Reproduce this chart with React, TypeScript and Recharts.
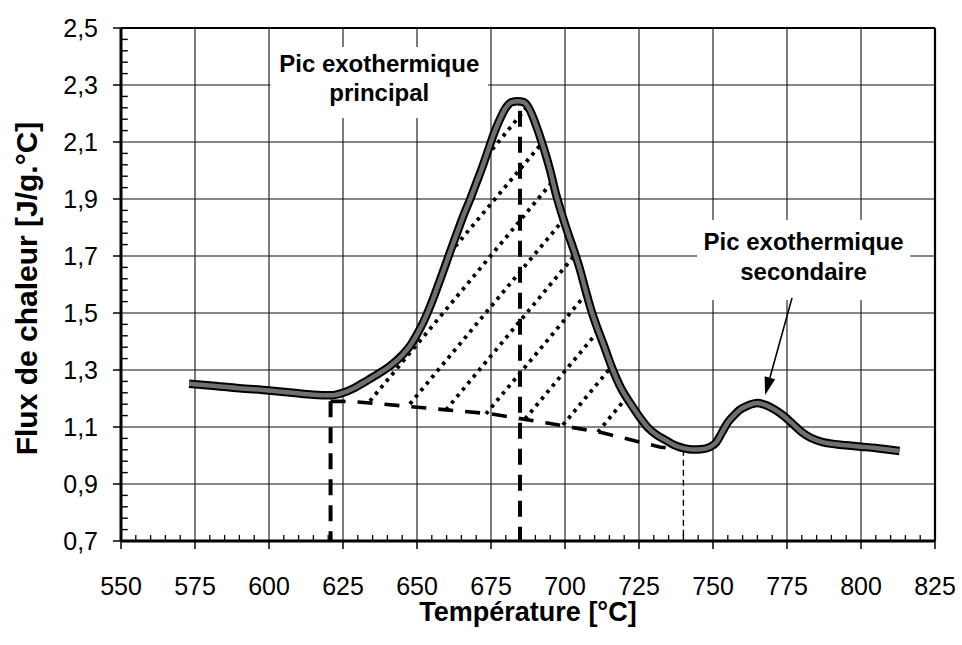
import React from 'react';
import { ComposedChart, Line, XAxis, YAxis, CartesianGrid, ReferenceLine, ReferenceArea } from 'recharts';

const FONT = "'Liberation Sans', Arial, sans-serif";

const xTicks = [550, 575, 600, 625, 650, 675, 700, 725, 750, 775, 800, 825];
const xMinorTicks = [
  555, 560, 565, 570, 580, 585, 590, 595, 605, 610, 615, 620, 630, 635, 640, 645,
  655, 660, 665, 670, 680, 685, 690, 695, 705, 710, 715, 720, 730, 735, 740, 745,
  755, 760, 765, 770, 780, 785, 790, 795, 805, 810, 815, 820,
];
const yTicks = [0.7, 0.9, 1.1, 1.3, 1.5, 1.7, 1.9, 2.1, 2.3, 2.5];
const yMinorTicks = [
  0.74, 0.78, 0.82, 0.86, 0.94, 0.98, 1.02, 1.06, 1.14, 1.18, 1.22, 1.26,
  1.34, 1.38, 1.42, 1.46, 1.54, 1.58, 1.62, 1.66, 1.74, 1.78, 1.82, 1.86,
  1.94, 1.98, 2.02, 2.06, 2.14, 2.18, 2.22, 2.26, 2.34, 2.38, 2.42, 2.46,
];

// Heat flux curve (temperature °C, flux J/g.°C)
const fluxCurve = [
  { T: 573, v: 1.252 }, { T: 580, v: 1.246 }, { T: 590, v: 1.236 }, { T: 600, v: 1.228 },
  { T: 608, v: 1.22 }, { T: 615, v: 1.213 }, { T: 621, v: 1.211 }, { T: 625, v: 1.22 },
  { T: 629, v: 1.238 }, { T: 633, v: 1.262 }, { T: 637, v: 1.287 }, { T: 641, v: 1.315 },
  { T: 645, v: 1.352 }, { T: 648, v: 1.39 }, { T: 650, v: 1.425 }, { T: 652, v: 1.465 },
  { T: 654, v: 1.512 }, { T: 656, v: 1.565 }, { T: 658, v: 1.622 }, { T: 660, v: 1.68 },
  { T: 662, v: 1.738 }, { T: 664, v: 1.795 }, { T: 666, v: 1.85 }, { T: 668, v: 1.9 },
  { T: 670, v: 1.955 }, { T: 672, v: 2.01 }, { T: 674, v: 2.07 }, { T: 676, v: 2.13 },
  { T: 678, v: 2.18 }, { T: 680, v: 2.22 }, { T: 682, v: 2.24 }, { T: 684, v: 2.243 },
  { T: 686, v: 2.24 }, { T: 688, v: 2.215 }, { T: 690, v: 2.165 }, { T: 692, v: 2.105 },
  { T: 695, v: 2.0 }, { T: 697, v: 1.915 }, { T: 699, v: 1.845 }, { T: 701, v: 1.78 },
  { T: 703, v: 1.72 }, { T: 705, v: 1.655 }, { T: 707, v: 1.578 }, { T: 709, v: 1.505 },
  { T: 711, v: 1.445 }, { T: 713, v: 1.39 }, { T: 716, v: 1.305 }, { T: 719, v: 1.235 },
  { T: 722, v: 1.184 }, { T: 725, v: 1.138 }, { T: 728, v: 1.098 }, { T: 731, v: 1.072 },
  { T: 734, v: 1.054 }, { T: 737, v: 1.036 }, { T: 740, v: 1.026 }, { T: 743, v: 1.021 },
  { T: 746, v: 1.022 }, { T: 749, v: 1.03 }, { T: 751, v: 1.045 }, { T: 753, v: 1.08 },
  { T: 755, v: 1.116 }, { T: 757, v: 1.14 }, { T: 759, v: 1.16 }, { T: 762, v: 1.176 },
  { T: 765, v: 1.184 }, { T: 768, v: 1.176 }, { T: 771, v: 1.16 }, { T: 774, v: 1.138 },
  { T: 777, v: 1.11 }, { T: 780, v: 1.082 }, { T: 783, v: 1.062 }, { T: 787, v: 1.047 },
  { T: 791, v: 1.04 }, { T: 795, v: 1.036 }, { T: 800, v: 1.031 }, { T: 805, v: 1.026 },
  { T: 809, v: 1.021 }, { T: 813, v: 1.016 },
];

// Construction lines
const baseline = [
  { T: 620.8, v: 1.19 }, { T: 625, v: 1.19 }, { T: 631, v: 1.187 }, { T: 645, v: 1.174 },
  { T: 660, v: 1.16 }, { T: 675, v: 1.146 }, { T: 694, v: 1.114 }, { T: 713, v: 1.079 },
  { T: 732, v: 1.03 }, { T: 740, v: 1.019 },
];
const onsetLine = [{ T: 620.8, v: 1.19 }, { T: 620.8, v: 0.7 }];
const peakLine = [{ T: 684.8, v: 2.21 }, { T: 684.8, v: 0.7 }];
const endLine = [{ T: 740, v: 1.02 }, { T: 740, v: 0.7 }];

const hatchLines = [
  [{ T: 673.6, v: 2.051 }, { T: 687.2, v: 2.223 }],
  [{ T: 661.1, v: 1.711 }, { T: 692.2, v: 2.096 }],
  [{ T: 634.1, v: 1.191 }, { T: 695.9, v: 1.963 }],
  [{ T: 647.6, v: 1.181 }, { T: 699.7, v: 1.83 }],
  [{ T: 659.8, v: 1.16 }, { T: 703.4, v: 1.704 }],
  [{ T: 673.3, v: 1.146 }, { T: 707.4, v: 1.57 }],
  [{ T: 686.5, v: 1.128 }, { T: 711.5, v: 1.44 }],
  [{ T: 699.3, v: 1.107 }, { T: 715.9, v: 1.314 }],
  [{ T: 711.1, v: 1.082 }, { T: 720.9, v: 1.205 }],
];

const arrowSegment = [{ x: 776.7, y: 1.553 }, { x: 767.6, y: 1.212 }];

const fmtY = (v: number) => v.toFixed(1).replace('.', ',');

const NoTick = () => <g />;

// inner minor tick length on the y axis, expressed in °C along x
const MINOR_Y_TICK_SPAN = 2.3;

const ArrowShape = (p: any) => {
  const { x1, y1, x2, y2 } = p;
  const ang = Math.atan2(y2 - y1, x2 - x1);
  const len = 18;
  const half = 5.5;
  const bx = x2 - len * Math.cos(ang);
  const by = y2 - len * Math.sin(ang);
  const px = -Math.sin(ang) * half;
  const py = Math.cos(ang) * half;
  return (
    <g>
      <line x1={x1} y1={y1} x2={bx} y2={by} stroke="#000" strokeWidth={1.6} />
      <polygon points={`${x2},${y2} ${bx + px},${by + py} ${bx - px},${by - py}`} fill="#000" />
    </g>
  );
};

const twoLineLabel = (l1: string, l2: string, d1: number, d2: number) => (p: any) => {
  const vb = p.viewBox;
  const cx = vb.x + vb.width / 2;
  return (
    <g>
      <text x={cx} y={vb.y + d1} textAnchor="middle" fontFamily={FONT} fontWeight="bold" fontSize={24} fill="#000">{l1}</text>
      <text x={cx} y={vb.y + d2} textAnchor="middle" fontFamily={FONT} fontWeight="bold" fontSize={24} fill="#000">{l2}</text>
    </g>
  );
};

export default function App() {
  return (
    <div style={{ position: 'absolute', left: 0, top: 0, width: 962, height: 645, background: '#fff' }}>
      <ComposedChart width={962} height={645} margin={{ top: 28, right: 27, bottom: 0, left: 0 }}>
        <CartesianGrid stroke="#111" strokeWidth={1.1} horizontalValues={yTicks} verticalValues={xTicks} />
        <XAxis
          type="number"
          dataKey="T"
          domain={[550, 825]}
          allowDataOverflow
          ticks={xTicks}
          interval={0}
          height={104}
          tickSize={8}
          tickMargin={28}
          axisLine={{ stroke: '#000', strokeWidth: 3 }}
          tickLine={{ stroke: '#000', strokeWidth: 1.5 }}
          tick={{ fill: '#000', fontSize: 25, fontFamily: FONT }}
          label={{
            content: (p: any) => {
              const vb = p.viewBox;
              return (
                <text x={vb.x + vb.width / 2} y={vb.y + 80} textAnchor="middle" fontFamily={FONT} fontWeight="bold" fontSize={27} fill="#000">
                  Température [°C]
                </text>
              );
            },
          }}
        />
        <XAxis
          xAxisId="minor"
          type="number"
          dataKey="T"
          domain={[550, 825]}
          allowDataOverflow
          ticks={xMinorTicks}
          interval={0}
          mirror
          height={1}
          tickSize={6}
          axisLine={false}
          tickLine={{ stroke: '#000', strokeWidth: 1.3 }}
          tick={<NoTick />}
        />
        <YAxis
          type="number"
          domain={[0.7, 2.5]}
          allowDataOverflow
          ticks={yTicks}
          interval={0}
          width={121}
          tickSize={8}
          tickMargin={15}
          tickFormatter={fmtY}
          axisLine={{ stroke: '#000', strokeWidth: 3 }}
          tickLine={{ stroke: '#000', strokeWidth: 1.5 }}
          tick={{ fill: '#000', fontSize: 25, fontFamily: FONT }}
          label={{
            content: (p: any) => {
              const vb = p.viewBox;
              const x = vb.x + 37;
              const y = vb.y + vb.height / 2 + 4;
              return (
                <text x={x} y={y} transform={`rotate(-90 ${x} ${y})`} textAnchor="middle" fontFamily={FONT} fontWeight="bold" fontSize={30} fill="#000">
                  Flux de chaleur [J/g.°C]
                </text>
              );
            },
          }}
        />
        <ReferenceLine y={2.5} stroke="#000" strokeWidth={2.2} />
        <ReferenceLine x={825} stroke="#000" strokeWidth={2.2} />
        {yMinorTicks.map((t) => (
          <ReferenceLine
            key={`ym${t}`}
            segment={[{ x: 550, y: t }, { x: 550 + MINOR_Y_TICK_SPAN, y: t }]}
            stroke="#000"
            strokeWidth={1.4}
          />
        ))}

        <ReferenceArea
          x1={600.5}
          x2={674}
          y1={2.184}
          y2={2.433}
          fill="#fff"
          fillOpacity={1}
          stroke="none"
          label={{ content: twoLineLabel('Pic exothermique', 'principal', 25, 54) }}
        />
        <ReferenceArea
          x1={744.6}
          x2={816.6}
          y1={1.546}
          y2={1.826}
          fill="#fff"
          fillOpacity={1}
          stroke="none"
          label={{ content: twoLineLabel('Pic exothermique', 'secondaire', 30, 60) }}
        />

        {hatchLines.map((seg, i) => (
          <Line
            key={`h${i}`}
            data={seg}
            dataKey="v"
            type="linear"
            stroke="#000"
            strokeWidth={3.8}
            strokeDasharray="3.5 5"
            dot={false}
            activeDot={false}
            isAnimationActive={false}
          />
        ))}
        <Line data={baseline} dataKey="v" type="linear" stroke="#000" strokeWidth={3.6} strokeDasharray="15 12" dot={false} activeDot={false} isAnimationActive={false} />
        <Line data={onsetLine} dataKey="v" type="linear" stroke="#000" strokeWidth={4} strokeDasharray="16 10" dot={false} activeDot={false} isAnimationActive={false} />
        <Line data={peakLine} dataKey="v" type="linear" stroke="#000" strokeWidth={4} strokeDasharray="16 10" dot={false} activeDot={false} isAnimationActive={false} />
        <Line data={endLine} dataKey="v" type="linear" stroke="#000" strokeWidth={1.4} strokeDasharray="6 4" dot={false} activeDot={false} isAnimationActive={false} />

        <Line data={fluxCurve} dataKey="v" type="monotone" stroke="#000" strokeWidth={8.5} dot={false} activeDot={false} isAnimationActive={false} />
        <Line data={fluxCurve} dataKey="v" type="monotone" stroke="#6f6f6f" strokeWidth={4.5} dot={false} activeDot={false} isAnimationActive={false} />

        <ReferenceLine segment={arrowSegment} shape={ArrowShape} stroke="#000" />
      </ComposedChart>
    </div>
  );
}
